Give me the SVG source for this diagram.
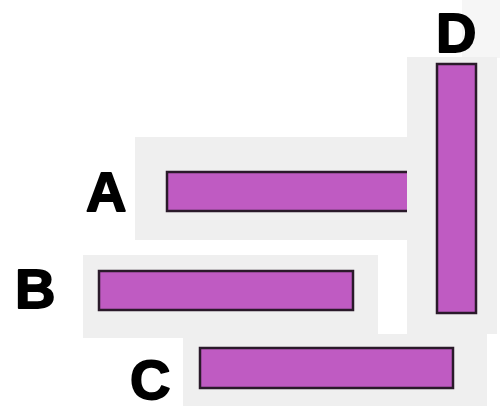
<svg xmlns="http://www.w3.org/2000/svg" width="500" height="406" viewBox="0 0 500 406">
<style>
.bg{fill:#efefef}
.bar{fill:#bf5bc2;stroke:#2a1a2a;stroke-width:2.5}
.lbl{font-family:"Liberation Sans",Arial,sans-serif;font-weight:bold;font-size:56px;fill:#000;stroke:#000;stroke-width:1.8;stroke-linejoin:round}
</style>
<rect x="0" y="0" width="500" height="406" fill="#fff"/>
<rect x="462" y="0" width="38" height="58" fill="#f6f6f6"/>
<g id="A">
<rect class="bg" x="135" y="137" width="273" height="103"/>
<rect class="bar" x="167" y="172" width="250" height="39"/>
<text class="lbl" x="86" y="211">A</text>
</g>
<g id="B">
<rect class="bg" x="83" y="255" width="295" height="83"/>
<rect class="bar" x="99" y="271" width="254" height="39"/>
<text class="lbl" x="15" y="308">B</text>
</g>
<g id="D">
<rect class="bg" x="407" y="57" width="90" height="277"/>
<rect class="bar" x="437" y="64" width="39" height="249"/>
<text class="lbl" x="436" y="52">D</text>
</g>
<g id="C">
<rect class="bg" x="183" y="334" width="304" height="72"/>
<rect class="bar" x="200" y="348" width="253" height="40"/>
<text class="lbl" x="130" y="399">C</text>
</g>
<g id="connectors"></g>
</svg>
